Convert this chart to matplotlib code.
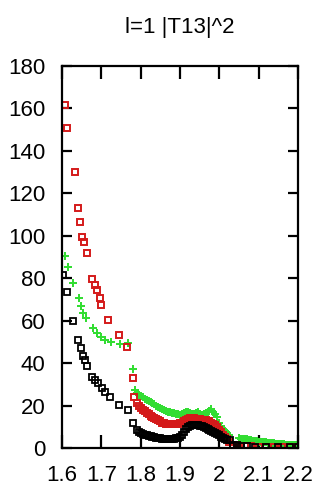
import matplotlib
matplotlib.use('Agg')
import matplotlib.pyplot as plt

# |T13|^2 for l=1, three data sets
red_x = [1.608, 1.613, 1.633, 1.641, 1.646, 1.651, 1.656, 1.664, 1.676, 1.684,
         1.689, 1.697, 1.700, 1.717, 1.745, 1.765, 1.781, 1.783,
         1.79, 1.795, 1.80, 1.805, 1.81, 1.815, 1.82, 1.825, 1.83, 1.835,
         1.84, 1.845, 1.85, 1.855, 1.86, 1.865, 1.87, 1.875, 1.88, 1.885,
         1.89, 1.895, 1.90, 1.905, 1.91, 1.915, 1.92, 1.925, 1.93, 1.935,
         1.94, 1.945, 1.95, 1.955, 1.96, 1.965, 1.97, 1.975, 1.98, 1.985,
         1.99, 1.995, 2.00, 2.005, 2.01, 2.015, 2.02, 2.025,
         2.035, 2.045, 2.055, 2.065, 2.08, 2.1, 2.12, 2.14, 2.16, 2.18, 2.2]
red_y = [161.6, 150.8, 130.0, 113.0, 106.5, 99.5, 97.0, 92.0, 79.6, 76.8,
         74.5, 70.5, 67.4, 60.3, 53.3, 47.6, 33.0, 24.0,
         21.0, 20.0, 19.0, 18.0, 17.5, 16.5, 16.0, 15.0, 14.5, 14.0,
         13.5, 13.0, 12.5, 12.0, 12.0, 11.5, 11.5, 11.5, 11.5, 11.5,
         11.5, 11.5, 12.0, 12.0, 12.5, 13.0, 13.5, 14.0, 14.0, 14.0,
         13.5, 13.5, 13.5, 13.0, 13.0, 13.0, 12.5, 12.5, 12.0, 11.5,
         11.0, 10.0, 8.5, 7.5, 6.0, 5.0, 4.0, 3.0,
         1.5, 1.2, 1.0, 0.9, 0.8, 0.7, 0.6, 0.5, 0.4, 0.4, 0.3]

green_x = [1.608, 1.615, 1.628, 1.643, 1.648, 1.653, 1.661, 1.679, 1.690, 1.699,
           1.710, 1.725, 1.747, 1.768, 1.780, 1.786,
           1.79, 1.795, 1.80, 1.805, 1.81, 1.815, 1.82, 1.825, 1.83, 1.835,
           1.84, 1.845, 1.85, 1.855, 1.86, 1.865, 1.87, 1.875, 1.88, 1.885,
           1.89, 1.895, 1.90, 1.905, 1.91, 1.915, 1.92, 1.925, 1.93, 1.935,
           1.94, 1.945, 1.95, 1.955, 1.96, 1.965, 1.97, 1.975, 1.98, 1.985,
           1.99, 1.995, 2.00, 2.005, 2.01, 2.015, 2.02, 2.025,
           2.05, 2.055, 2.06, 2.065, 2.07, 2.075, 2.08, 2.085, 2.09, 2.095,
           2.10, 2.105, 2.11, 2.115, 2.12, 2.125, 2.13, 2.135, 2.14, 2.145,
           2.15, 2.155, 2.16, 2.165, 2.17, 2.175, 2.18, 2.185, 2.19, 2.195, 2.2]
green_y = [90.5, 85.3, 77.8, 70.7, 66.9, 63.6, 61.3, 56.5, 54.0, 52.3,
           51.0, 50.0, 49.0, 49.5, 37.2, 27.3,
           26.0, 25.0, 24.5, 24.0, 23.0, 22.5, 22.0, 21.5, 21.0, 20.5,
           20.0, 19.5, 19.0, 18.5, 18.0, 17.5, 17.0, 17.0, 16.5, 16.5,
           16.0, 16.0, 15.5, 16.0, 16.5, 17.0, 17.0, 16.5, 16.0, 16.0,
           16.5, 17.0, 16.0, 15.5, 16.0, 16.5, 17.0, 17.5, 18.5, 17.0,
           16.0, 14.5, 12.0, 10.5, 9.0, 8.0, 7.0, 6.0,
           4.5, 4.4, 4.2, 4.1, 4.0, 3.8, 3.6, 3.5, 3.3, 3.2,
           3.0, 2.9, 2.8, 2.7, 2.6, 2.5, 2.4, 2.3, 2.2, 2.1,
           2.0, 1.9, 1.8, 1.7, 1.6, 1.6, 1.5, 1.4, 1.3, 1.3, 1.2]

black_x = [1.603, 1.613, 1.628, 1.641, 1.648, 1.653, 1.658, 1.664, 1.676, 1.684,
           1.692, 1.702, 1.709, 1.722, 1.745, 1.768, 1.781,
           1.79, 1.795, 1.80, 1.805, 1.81, 1.815, 1.82, 1.825, 1.83, 1.835,
           1.84, 1.845, 1.85, 1.855, 1.86, 1.865, 1.87, 1.875, 1.88, 1.885,
           1.89, 1.895, 1.90, 1.905, 1.91, 1.915, 1.92, 1.925, 1.93, 1.935,
           1.94, 1.945, 1.95, 1.955, 1.96, 1.965, 1.97, 1.975, 1.98, 1.985,
           1.99, 1.995, 2.00, 2.005, 2.01, 2.015, 2.02, 2.027,
           2.035, 2.045, 2.055, 2.07, 2.09, 2.12, 2.15, 2.18, 2.2]
black_y = [81.5, 73.5, 60.0, 51.0, 47.0, 43.5, 41.5, 38.6, 33.5, 32.0,
           30.6, 28.3, 26.4, 24.0, 20.3, 17.9, 11.8,
           8.5, 7.5, 7.0, 6.5, 6.2, 6.0, 5.8, 5.5, 5.2, 5.0,
           4.8, 4.6, 4.5, 4.4, 4.3, 4.2, 4.2, 4.2, 4.2, 4.3,
           4.5, 4.8, 5.3, 6.0, 7.5, 9.0, 10.0, 10.5, 10.8, 11.0,
           11.0, 10.8, 10.5, 10.2, 10.0, 9.5, 9.0, 8.5, 8.0, 7.5,
           7.0, 6.5, 6.0, 5.2, 4.7, 4.2, 3.8, 3.8,
           1.5, 1.2, 1.0, 0.8, 0.6, 0.5, 0.4, 0.3, 0.3]

x_ticks = [1.6, 1.7, 1.8, 1.9, 2.0, 2.1, 2.2]
x_labels = ['1.6', '1.7', '1.8', '1.9', '2', '2.1', '2.2']
y_ticks = [0, 20, 40, 60, 80, 100, 120, 140, 160, 180]

plt.rcParams['font.family'] = ['Liberation Sans', 'DejaVu Sans']

fig = plt.figure(figsize=(3.2, 4.91), dpi=100)
ax = fig.add_axes([0.194, 0.0876, 0.737, 0.778])

ax.plot(green_x, green_y, linestyle='none', marker='P', markersize=5.5,
        color='#33dd33', markeredgewidth=0)
ax.plot(red_x, red_y, linestyle='none', marker='s', markersize=4.6,
        markerfacecolor='none', markeredgecolor='#d41a1a', markeredgewidth=1.4)
ax.plot(black_x, black_y, linestyle='none', marker='s', markersize=4.2,
        markerfacecolor='none', markeredgecolor='black', markeredgewidth=1.3)

ax.set_xlim(1.6, 2.2)
ax.set_ylim(0, 180)
ax.set_xticks(x_ticks)
ax.set_xticklabels(x_labels)
ax.set_yticks(y_ticks)
ax.tick_params(axis='both', direction='in', top=True, right=True,
               width=1.6, labelsize=16)
ax.tick_params(axis='x', length=9.5, pad=12)
ax.tick_params(axis='y', length=7.5, pad=12)
for s in ax.spines.values():
    s.set_linewidth(1.6)

ax.set_title('l=1 |T13|^2', fontsize=16, pad=24)

fig.savefig('out.png', dpi=100)
